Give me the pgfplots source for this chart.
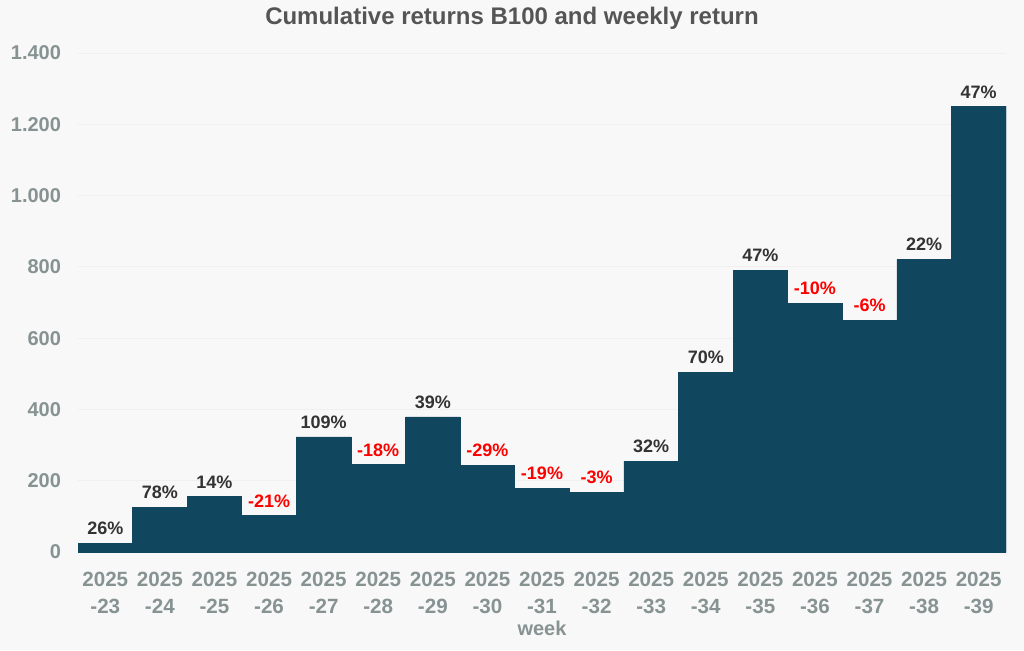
\documentclass[border=0pt]{standalone}
\usepackage{pgfplots}
\pgfplotsset{compat=1.18}
\usepackage{fontspec}
\setmainfont{Liberation Sans}
\definecolor{bg}{HTML}{F8F8F8}
\definecolor{barcol}{HTML}{11465F}
\definecolor{tickgray}{HTML}{879392}
\definecolor{labdark}{HTML}{333333}
\definecolor{labred}{HTML}{FF0000}
\definecolor{titlegray}{HTML}{555555}
\begin{document}
\begin{tikzpicture}
% canvas: 1px = 0.5pt
\fill[bg] (0,0) rectangle (512pt,325pt);
\begin{axis}[
  at={(39pt,49pt)}, anchor=south west,
  scale only axis, width=464pt, height=249.5pt,
  xmin=-0.5, xmax=16.5, ymin=0, ymax=1400,
  axis line style={draw=none},
  major tick style={draw=none},
  ytick={0,200,...,1400},
  ymajorgrids=true, grid style={draw=black!6, line width=0.4pt},
  /pgf/number format/.cd, 1000 sep={.}, assume math mode=true, /pgfplots/.cd,
  yticklabel style={font=\fontsize{10}{12}\selectfont\bfseries, text=tickgray, xshift=-5pt},
  xtick={0,...,16},
  xticklabels={{2025\\-23},{2025\\-24},{2025\\-25},{2025\\-26},{2025\\-27},{2025\\-28},{2025\\-29},{2025\\-30},{2025\\-31},{2025\\-32},{2025\\-33},{2025\\-34},{2025\\-35},{2025\\-36},{2025\\-37},{2025\\-38},{2025\\-39}},
  xticklabel style={font=\fontsize{10.3}{13.5}\selectfont\bfseries, text=tickgray, align=center, yshift=-6.5pt},
  xlabel={week},
  xlabel style={at={(axis description cs:0.5,0)}, anchor=center, yshift=-38pt,
    font=\fontsize{10}{12}\selectfont\bfseries, text=tickgray},
  nodes near coords,
  point meta=explicit symbolic,
  every node near coord/.append style={font=\fontsize{9}{10}\selectfont\bfseries, inner sep=1pt, yshift=3pt},
]
\addplot[ybar, bar width=1, bar shift=0pt, fill=barcol, draw=barcol, line width=0.3pt,
  every node near coord/.append style={text=labdark}] coordinates {
  (0,24) [26\%]
  (1,125) [78\%]
  (2,155) [14\%]
  (4,323) [109\%]
  (6,379) [39\%]
  (10,255) [32\%]
  (11,504) [70\%]
  (12,790) [47\%]
  (15,821) [22\%]
  (16,1250) [47\%]
};
\addplot[ybar, bar width=1, bar shift=0pt, fill=barcol, draw=barcol, line width=0.3pt,
  every node near coord/.append style={text=labred}] coordinates {
  (3,102) [-21\%]
  (5,245) [-18\%]
  (7,243) [-29\%]
  (8,179) [-19\%]
  (9,168) [-3\%]
  (13,698) [-10\%]
  (14,650) [-6\%]
};
\end{axis}
\node[font=\fontsize{12}{15}\selectfont\bfseries, text=titlegray] at (256pt,316pt) {Cumulative returns B100 and weekly return};
\pgfresetboundingbox
\useasboundingbox (0,0) rectangle (512pt,325pt);
\end{tikzpicture}
\end{document}
